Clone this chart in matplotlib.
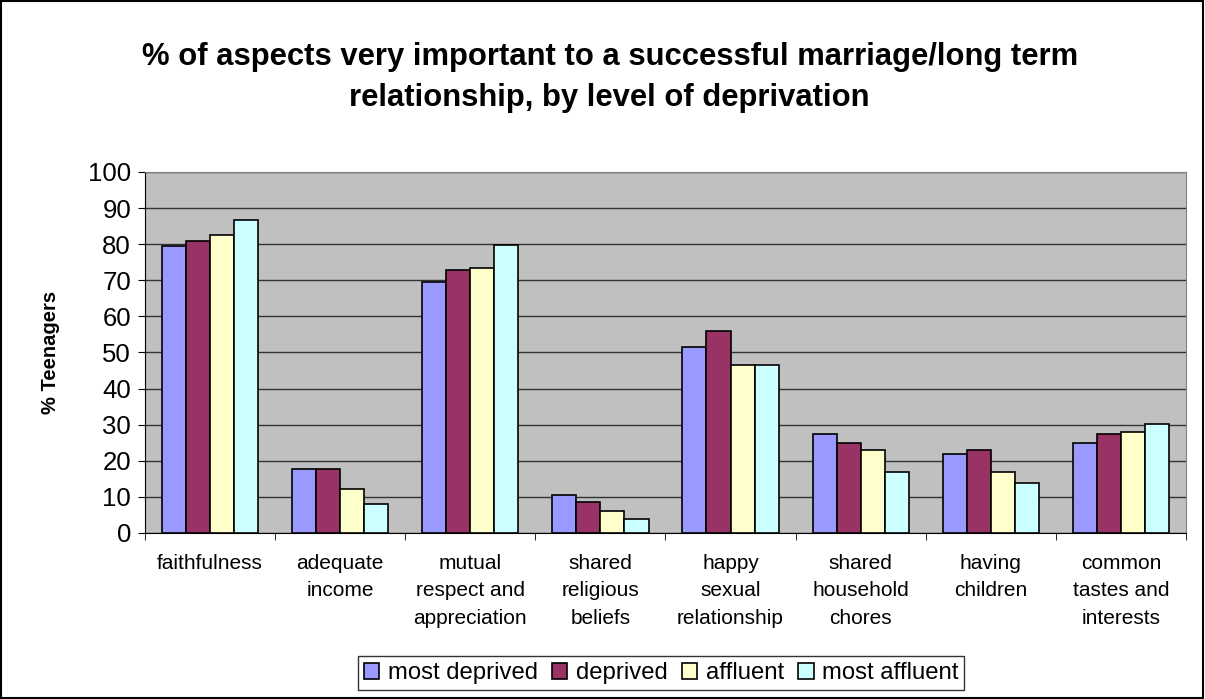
import matplotlib.pyplot as plt
import numpy as np

plt.rcParams['font.family'] = ['Liberation Sans', 'DejaVu Sans']

# Dados
categorias = ['faithfulness', 'adequate\nincome', 'mutual\nrespect and\nappreciation',
              'shared\nreligious\nbeliefs', 'happy\nsexual\nrelationship',
              'shared\nhousehold\nchores', 'having\nchildren', 'common\ntastes and\ninterests']
series = ['most deprived', 'deprived', 'affluent', 'most affluent']
most_deprived = [79.4, 17.7, 69.6, 10.6, 51.6, 27.5, 21.9, 24.9]
deprived = [81.0, 17.7, 72.8, 8.6, 55.9, 24.9, 23.0, 27.5]
affluent = [82.5, 12.2, 73.3, 6.0, 46.5, 22.9, 16.8, 28.1]
most_affluent = [86.6, 8.1, 79.9, 4.0, 46.5, 16.8, 13.8, 30.1]
cores = ['#9999FF', '#993366', '#FFFFCC', '#CCFFFF']

fig = plt.figure(figsize=(12.05, 6.99), dpi=100)
# Moldura da figura
fig.patches.append(plt.Rectangle((0.001, 0.001), 0.997, 0.997, transform=fig.transFigure,
                                 fill=False, edgecolor='black', linewidth=1.5))

ax = fig.add_axes([0.1203, 0.2375, 0.8639, 0.5165])
ax.set_facecolor('#C0C0C0')

x = np.arange(len(categorias))
largura = 0.185
valores = [most_deprived, deprived, affluent, most_affluent]
for i, (serie, v) in enumerate(zip(series, valores)):
    ax.bar(x + (i - 1.5) * largura, v, largura, color=cores[i], edgecolor='black',
           linewidth=1.2, label=serie, zorder=3)

ax.set_xlim(-0.5, len(categorias) - 0.5)
ax.set_ylim(0, 100)
ax.set_yticks(range(0, 101, 10))
ax.tick_params(axis='y', labelsize=18.5, direction='out', length=5, pad=5)
ax.yaxis.grid(True, color='#333333', linewidth=1, zorder=0)

ax.set_xticks(x)
ax.set_xticklabels(categorias, fontsize=15, linespacing=1.56, va='top')
ax.tick_params(axis='x', length=0, pad=15)
ax.set_xticks(np.arange(-0.5, len(categorias)), minor=True)
ax.tick_params(axis='x', which='minor', length=5, direction='out')

for lado in ['top', 'right']:
    ax.spines[lado].set_color('#808080')
ax.spines['left'].set_color('black')
ax.spines['bottom'].set_color('black')

ax.set_ylabel('% Teenagers', fontsize=14.5, fontweight='bold', labelpad=20)

fig.text(0.506, 0.889, '% of aspects very important to a successful marriage/long term\nrelationship, by level of deprivation',
         ha='center', va='center', fontsize=22.3, fontweight='bold', linespacing=1.5)

leg = fig.legend(loc='center', bbox_to_anchor=(0.5486, 0.037), ncol=4, fontsize=17.2,
                 frameon=True, fancybox=False, edgecolor='black', handlelength=0.65,
                 handleheight=0.65, handletextpad=0.35, columnspacing=0.6, borderpad=0.25)
leg.get_frame().set_linewidth(1)

fig.savefig('out.png', dpi=100)
